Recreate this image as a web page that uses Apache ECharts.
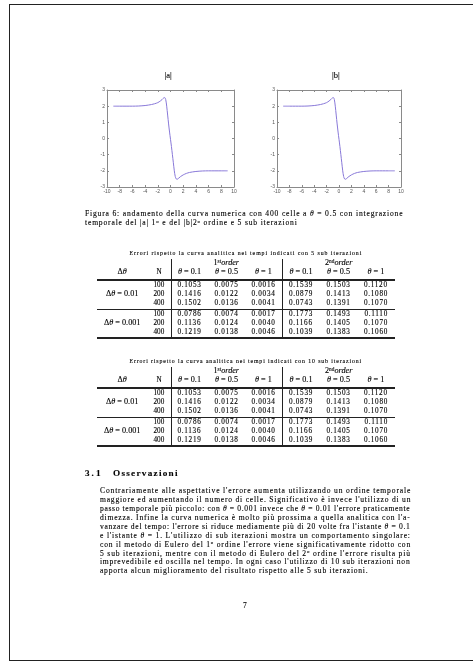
<!DOCTYPE html>
<html><head><meta charset="utf-8">
<script src="https://cdn.jsdelivr.net/npm/echarts@6/dist/echarts.min.js"></script>
<style>
html,body{margin:0;padding:0;background:#fff}
body{width:473px;height:662px;overflow:hidden;position:relative;font-family:"Liberation Serif","DejaVu Serif",serif;color:#000}
#frame{position:absolute;left:9px;top:4px;width:500px;height:655px;border-left:1.5px solid #222;border-top:1.5px solid #222;border-bottom:1.5px solid #222}
#chart{position:absolute;left:0;top:0;width:473px;height:200px}
#doc{position:absolute;left:0;top:0;width:473px;height:662px;filter:grayscale(1)}
.t{position:absolute;white-space:nowrap;-webkit-text-stroke:0.12px #000}
.rule{position:absolute;background:#222}
i{font-style:italic}
sup{font-size:65%;vertical-align:0;position:relative;top:-0.45em}
</style></head>
<body>
<div id="frame"></div>
<div id="chart"></div>
<div id="doc"></div>
<script>
// ---- data ----
var curveX = [-9,-8,-7,-6,-5,-4,-3,-2.5,-2,-1.6,-1.3,-1.1,-0.9,-0.75,-0.6,-0.45,-0.3,-0.15,0,0.15,0.3,0.45,0.6,0.75,0.9,1.05,1.3,1.6,2,2.5,3,4,5,6,7,8,9];
var curveA = [2.0,2.0,2.0,2.0,2.01,2.04,2.1,2.15,2.22,2.32,2.42,2.5,2.53,2.4,2.0,1.45,0.9,0.4,-0.05,-0.5,-1.0,-1.5,-2.0,-2.35,-2.5,-2.52,-2.45,-2.35,-2.25,-2.16,-2.1,-2.04,-2.01,-2.0,-2.0,-2.0,-2.0];
var curveB = [2.0,2.0,2.0,2.0,2.01,2.04,2.1,2.15,2.22,2.32,2.42,2.5,2.53,2.4,2.0,1.45,0.9,0.4,-0.05,-0.5,-1.0,-1.5,-2.0,-2.35,-2.5,-2.52,-2.45,-2.35,-2.25,-2.16,-2.1,-2.04,-2.01,-2.0,-2.0,-2.0,-2.0];
var panelTitles = ["|a|","|b|"];
var dThetaLabels = ["0.01","0.001"];
var cellsN = [100,200,400];
var thetaLabels = ["0.1","0.5","1"];
var orderLabels = [["1","st"],["2","nd"]];
var table5 = [
  [0.1053,0.0075,0.0016,0.1539,0.1503,0.1120],
  [0.1416,0.0122,0.0034,0.0879,0.1413,0.1080],
  [0.1502,0.0136,0.0041,0.0743,0.1391,0.1070],
  [0.0786,0.0074,0.0017,0.1773,0.1493,0.1110],
  [0.1136,0.0124,0.0040,0.1166,0.1405,0.1070],
  [0.1219,0.0138,0.0046,0.1039,0.1383,0.1060]
];
var table10 = [
  [0.1053,0.0075,0.0016,0.1539,0.1503,0.1120],
  [0.1416,0.0122,0.0034,0.0879,0.1413,0.1080],
  [0.1502,0.0136,0.0041,0.0743,0.1391,0.1070],
  [0.0786,0.0074,0.0017,0.1773,0.1493,0.1110],
  [0.1136,0.0124,0.0040,0.1166,0.1405,0.1070],
  [0.1219,0.0138,0.0046,0.1039,0.1383,0.1060]
];
var tableTitles = ["Errori rispetto la curva analitica nei tempi indicati con 5 sub iterazioni",
                   "Errori rispetto la curva analitica nei tempi indicati con 10 sub iterazioni"];
var captionLines = ["Figura 6: andamento della curva numerica con 400 celle a <i>θ</i> = 0.5 con integrazione",
                    "temporale del |a| 1<sup>o</sup> e del |b|2<sup>o</sup> ordine e 5 sub iterazioni"];
var sectionNum = "3.1", sectionTitle = "Osservazioni";
var bodyLines = [
 "Contrariamente alle aspettative l'errore aumenta utilizzando un ordine temporale",
 "maggiore ed aumentando il numero di celle. Significativo è invece l'utilizzo di un",
 "passo temporale più piccolo: con <i>θ</i> = 0.001 invece che <i>θ</i> = 0.01 l'errore praticamente",
 "dimezza. Infine la curva numerica è molto più prossima a quella analitica con l'a-",
 "vanzare del tempo: l'errore si riduce mediamente più di 20 volte fra l'istante <i>θ</i> = 0.1",
 "e l'istante <i>θ</i> = 1. L'utilizzo di sub iterazioni mostra un comportamento singolare:",
 "con il metodo di Eulero del 1<sup>o</sup> ordine l'errore viene significativamente ridotto con",
 "5 sub iterazioni, mentre con il metodo di Eulero del 2<sup>o</sup> ordine l'errore risulta più",
 "imprevedibile ed oscilla nel tempo. In ogni caso l'utilizzo di 10 sub iterazioni non",
 "apporta alcun miglioramento del risultato rispetto alle 5 sub iterazioni."
];
var pageNumber = "7";

// ---- chart ----
var chart = echarts.init(document.getElementById('chart'), null, {renderer:'canvas'});
var grids = [{left:107,top:90,width:127,height:97},{left:277,top:90,width:124,height:97}];
var axColor = '#8a8a8a';
function xAx(g, pos, lab){return {type:'value',gridIndex:g,position:pos,min:-10,max:10,interval:2,
  axisLine:{show:true,onZero:false,lineStyle:{color:axColor,width:1}},
  axisTick:{show:true,inside:true,length:2,lineStyle:{color:axColor}},
  axisLabel:{show:lab,fontSize:5,color:'#555',margin:2,fontFamily:'Liberation Sans'},
  splitLine:{show:false}};}
function yAx(g, pos, lab){return {type:'value',gridIndex:g,position:pos,min:-3,max:3,interval:1,
  axisLine:{show:true,onZero:false,lineStyle:{color:axColor,width:1}},
  axisTick:{show:true,inside:true,length:2,lineStyle:{color:axColor}},
  axisLabel:{show:lab,fontSize:5,color:'#555',margin:2,fontFamily:'Liberation Sans'},
  splitLine:{show:false}};}
function pts(xs, ys){return xs.map(function(x,i){return [x, ys[i]];});}
chart.setOption({
  animation:false,
  grid:grids,
  xAxis:[xAx(0,'bottom',true),xAx(0,'top',false),xAx(1,'bottom',true),xAx(1,'top',false)],
  yAxis:[yAx(0,'left',true),yAx(0,'right',false),yAx(1,'left',true),yAx(1,'right',false)],
  series:[
    {type:'line',xAxisIndex:0,yAxisIndex:0,data:pts(curveX,curveA),showSymbol:false,smooth:0.3,lineStyle:{color:'#8878d8',width:1}},
    {type:'line',xAxisIndex:2,yAxisIndex:2,data:pts(curveX,curveB),showSymbol:false,smooth:0.3,lineStyle:{color:'#8878d8',width:1}}
  ]
});

// ---- document text ----
var doc = document.getElementById('doc');
function mk(html, size, opts){
  opts = opts || {};
  var d = document.createElement('div');
  d.className = 't';
  d.innerHTML = html;
  d.style.fontSize = size + 'px';
  d.style.lineHeight = size + 'px';
  if (opts.bold) d.style.fontWeight = 'bold';
  doc.appendChild(d);
  return d;
}
function nchars(d){ return d.textContent.length; }
function txt(html, x, cy, size, opts){
  opts = opts || {};
  var d = mk(html, size, opts);
  if (opts.ls) d.style.letterSpacing = opts.ls + 'px';
  if (opts.width) {
    var nat = d.offsetWidth;
    var ls = (opts.width - nat) / Math.max(1, nchars(d) - 1);
    d.style.letterSpacing = ls + 'px';
  }
  var w = d.offsetWidth;
  var left = opts.align === 'left' ? x : (opts.align === 'right' ? x - w : x - w/2);
  d.style.left = left + 'px';
  d.style.top = (cy - size/2) + 'px';
  return d;
}
var lastLs = 0.5;
function jline(html, x, cy, w, size, last){
  var d = mk(html, size);
  var nat = d.offsetWidth;
  var ls = last ? lastLs : (w - nat) / Math.max(1, nchars(d) - 1);
  if (!last) lastLs = ls;
  d.style.letterSpacing = ls + 'px';
  d.style.left = x + 'px';
  d.style.top = (cy - size/2) + 'px';
}
function rule(x, y, w, h){
  var d = document.createElement('div'); d.className = 'rule';
  d.style.left = x + 'px'; d.style.top = y + 'px'; d.style.width = w + 'px'; d.style.height = h + 'px';
  doc.appendChild(d);
}

txt(panelTitles[0], 168, 75, 8.5);
txt(panelTitles[1], 336, 75, 8.5);

jline(captionLines[0], 85, 214, 318, 7.6, false);
jline(captionLines[1], 85, 223, 318, 7.6, true);

var colCenters = [122, 159, 189.5, 226.5, 263.5, 301, 338.5, 376];
function table(T, title, vals){
  txt(title, 246, T, 5.8, {width:232});
  txt(orderLabels[0][0] + '<sup>' + orderLabels[0][1] + '</sup><i>order</i>', 226.5, T+9.5, 8.2);
  txt(orderLabels[1][0] + '<sup>' + orderLabels[1][1] + '</sup><i>order</i>', 338.5, T+9.5, 8.2);
  txt('Δ<i>θ</i>', colCenters[0], T+18.5, 8.2);
  txt('N', colCenters[1], T+18.5, 7.2);
  for (var k=0;k<6;k++) txt('<i>θ</i> = ' + thetaLabels[k%3], colCenters[2+k], T+18.5, 8.2);
  var G = 29;
  rule(97, T+24.5, 298, 2);
  rule(97, T+26+G, 298, 1);
  rule(97, T+26+2*G-1, 298, 2);
  rule(170.5, T+5, 1.5, 22+2*G);
  rule(281.5, T+5, 1.5, 22+2*G);
  for (var g=0; g<2; g++){
    var gTop = T+26 + g*G;
    txt('Δ<i>θ</i> = ' + dThetaLabels[g], colCenters[0], gTop+14.5, 8.2);
    for (var r=0;r<3;r++){
      var cy = gTop + 5.5 + r*9;
      txt(String(cellsN[r]), colCenters[1], cy, 7.2);
      var row = vals[g*3+r];
      for (var c=0;c<6;c++) txt(row[c].toFixed(4), colCenters[2+c], cy, 7.2, {ls:0.7});
    }
  }
}
table(254, tableTitles[0], table5);
table(362, tableTitles[1], table10);

txt(sectionNum, 85, 473.5, 9.2, {bold:true, align:'left', width:15});
txt(sectionTitle, 113, 473.5, 9.2, {bold:true, align:'left', width:65});

for (var i=0;i<bodyLines.length;i++){
  jline(bodyLines[i], 100, 491 + i*8.9, 310, 7.6, i === bodyLines.length-1);
}
txt(pageNumber, 245, 606, 7.6);
</script>
</body></html>
